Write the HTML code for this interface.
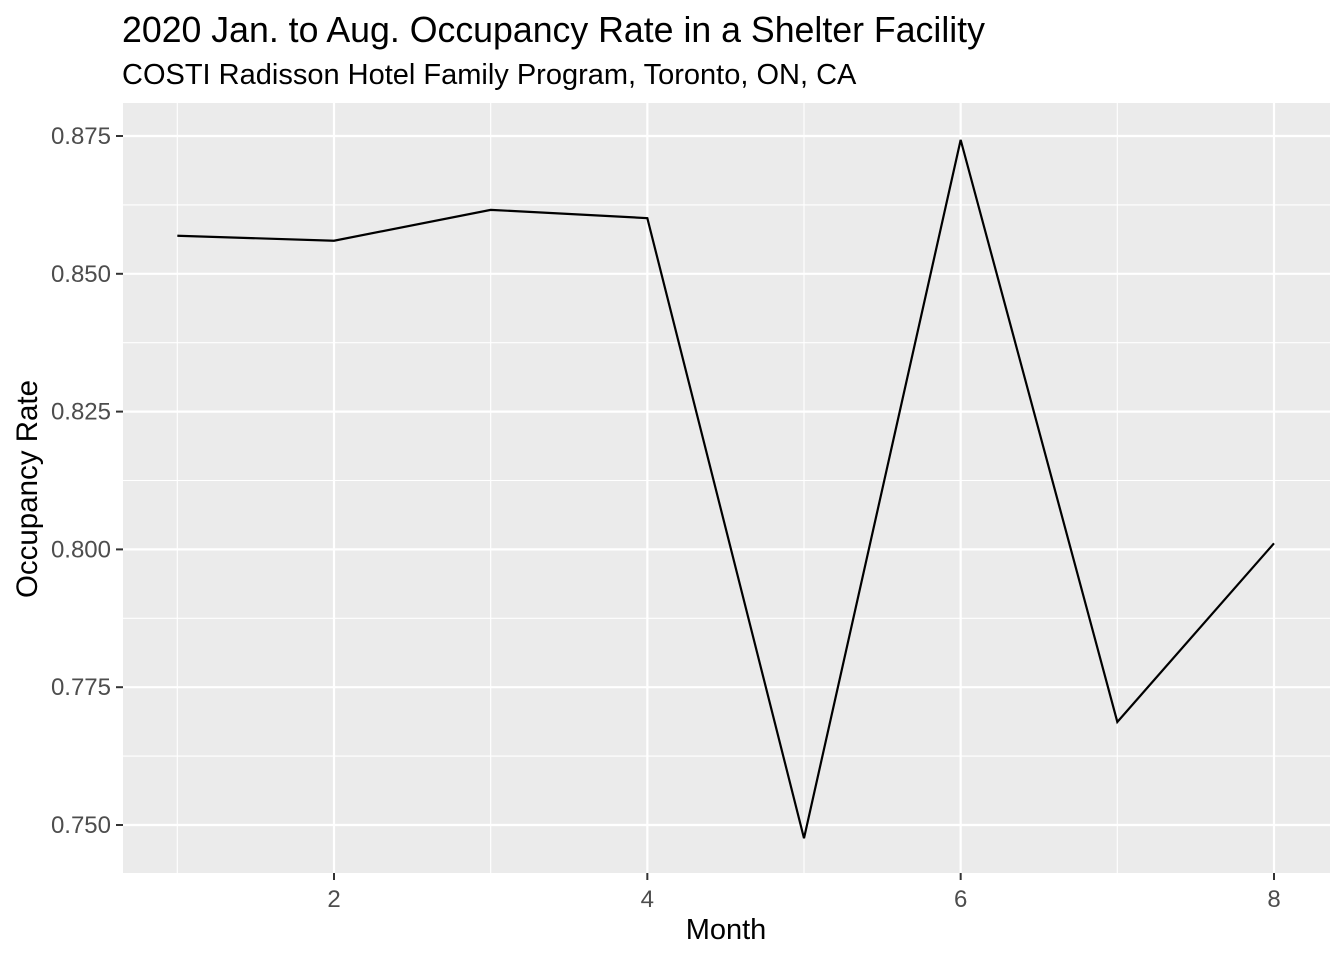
<!DOCTYPE html>
<html><head><meta charset="utf-8"><style>body{margin:0;background:#fff}svg{display:block}text{font-family:"Liberation Sans",sans-serif}</style></head>
<body>
<svg id="chart" width="1344" height="960">
<text x="122" y="42" font-size="35.7" fill="#000">2020 Jan. to Aug. Occupancy Rate in a Shelter Facility</text>
<text x="122" y="84" font-size="29" fill="#000">COSTI Radisson Hotel Family Program, Toronto, ON, CA</text>
<rect x="123" y="103" width="1207" height="770" fill="#ebebeb"/>
<g id="grid"></g>
<g id="axes"></g>
<path id="line" fill="none" stroke="#000" stroke-width="2.2"/>
<text x="726" y="939" font-size="29" text-anchor="middle">Month</text>
<text transform="translate(37,489) rotate(-90)" font-size="29.5" text-anchor="middle">Occupancy Rate</text>
</svg>
<script>
const months=[1,2,3,4,5,6,7,8];
const rates=[0.8569,0.8560,0.8616,0.8601,0.7476,0.8743,0.7687,0.8011];
const xTicks=[2,4,6,8];
const yTicks=[0.750,0.775,0.800,0.825,0.850,0.875];
const yTickLabels=["0.750","0.775","0.800","0.825","0.850","0.875"];
const xMinor=[1,3,5,7];
const yMinor=[0.7625,0.7875,0.8125,0.8375,0.8625];
function xs(v){return 334+(v-2)*(1274-334)/6;}
function ys(v){return 825-(v-0.75)*(825-136)/0.125;}
const NS="http://www.w3.org/2000/svg";
const grid=document.getElementById('grid'),axes=document.getElementById('axes');
function ln(p,x1,y1,x2,y2,c,w){const l=document.createElementNS(NS,'line');l.setAttribute('x1',x1);l.setAttribute('y1',y1);l.setAttribute('x2',x2);l.setAttribute('y2',y2);l.setAttribute('stroke',c);l.setAttribute('stroke-width',w);p.appendChild(l);return l;}
function tx(p,x,y,s,a){const t=document.createElementNS(NS,'text');t.setAttribute('x',x);t.setAttribute('y',y);t.setAttribute('font-size',24);t.setAttribute('fill','#4d4d4d');t.setAttribute('text-anchor',a);t.textContent=s;p.appendChild(t);return t;}
xMinor.forEach(v=>{const l=ln(grid,xs(v),103,xs(v),873,'#fff',1.1);

});
yMinor.forEach(v=>{const l=ln(grid,123,ys(v),1330,ys(v),'#fff',1.1);

});
xTicks.forEach(v=>{const l=ln(grid,xs(v),103,xs(v),873,'#fff',2.2);


ln(axes,xs(v),873,xs(v),880,'#333',2);
const t=tx(axes,xs(v),907,String(v),'middle');

});
yTicks.forEach((v,i)=>{const l=ln(grid,123,ys(v),1330,ys(v),'#fff',2.2);


ln(axes,116,ys(v),123,ys(v),'#333',2);
const t=tx(axes,111,ys(v)+8,yTickLabels[i],'end');

});
document.getElementById('line').setAttribute('d',months.map((m,i)=>(i?'L':'M')+xs(m)+','+ys(rates[i])).join(''));
</script>
</body></html>
